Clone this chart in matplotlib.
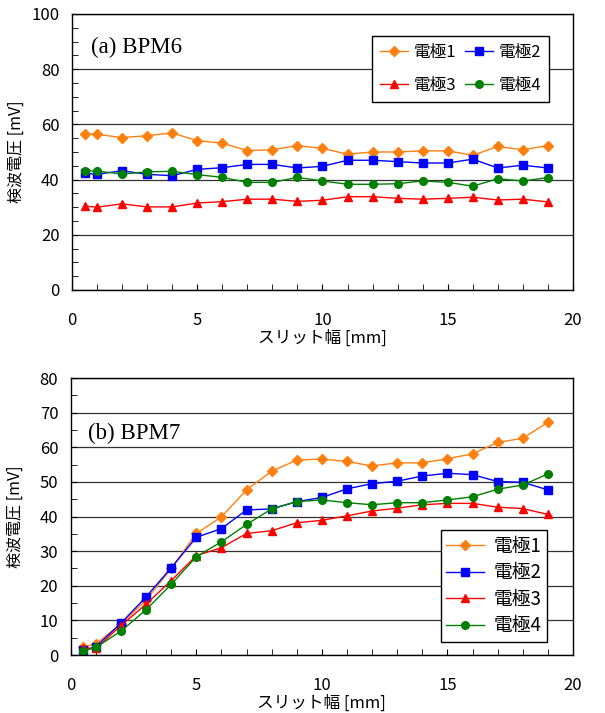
import numpy as np
import matplotlib.pyplot as plt
from matplotlib.ticker import MultipleLocator

plt.rcParams['font.family'] = ['Noto Sans CJK JP', 'DejaVu Sans']

x = [0.5, 1, 2, 3, 4, 5, 6, 7, 8, 9, 10, 11, 12, 13, 14, 15, 16, 17, 18, 19]

# (a) BPM6
a1 = [56.4, 56.4, 55.2, 55.9, 56.9, 54.1, 53.2, 50.5, 50.8, 52.3, 51.3, 49.2, 50.0, 50.0, 50.4, 50.4, 48.8, 52.0, 50.8, 52.3]
a2 = [42.3, 41.9, 43.2, 41.9, 41.4, 43.7, 44.3, 45.5, 45.5, 44.2, 44.8, 47.0, 47.0, 46.5, 46.0, 46.0, 47.4, 44.2, 45.2, 44.2]
a3 = [30.4, 30.0, 31.2, 30.1, 30.1, 31.5, 32.0, 32.9, 32.9, 32.1, 32.5, 33.8, 33.8, 33.2, 32.9, 33.2, 33.6, 32.6, 32.9, 31.9]
a4 = [43.1, 43.1, 42.0, 42.8, 43.0, 41.8, 40.8, 39.0, 39.0, 40.8, 39.5, 38.3, 38.3, 38.5, 39.5, 39.0, 37.6, 40.3, 39.5, 40.7]

# (b) BPM7
b1 = [2.4, 3.2, 9.0, 15.9, 25.0, 35.1, 39.9, 47.7, 53.1, 56.3, 56.6, 55.9, 54.6, 55.5, 55.5, 56.7, 58.1, 61.4, 62.6, 67.2]
b2 = [1.4, 2.4, 9.2, 16.8, 25.2, 34.0, 36.5, 41.9, 42.2, 44.3, 45.5, 48.0, 49.5, 50.2, 51.7, 52.5, 52.1, 50.1, 49.9, 47.7]
b3 = [1.9, 1.9, 8.5, 14.7, 21.5, 28.7, 31.0, 35.1, 35.9, 38.2, 38.9, 40.2, 41.6, 42.4, 43.4, 43.8, 43.8, 42.7, 42.3, 40.6]
b4 = [1.2, 2.2, 6.9, 13.1, 20.4, 28.4, 32.7, 37.7, 42.2, 44.3, 44.8, 44.0, 43.4, 44.0, 44.0, 44.8, 45.7, 47.9, 49.1, 52.3]

names = ['電極1', '電極2', '電極3', '電極4']
colors = ['#FF7F0F', '#0000FF', '#FF0000', '#008000']
markers = ['D', 's', '^', 'o']
msizes = [5, 5.5, 6, 5.5]

fig = plt.figure(figsize=(6.05, 7.13), dpi=100)
ax1 = fig.add_axes([0.119, 0.5933, 0.828, 0.3871])
ax2 = fig.add_axes([0.117, 0.0813, 0.830, 0.3885])

def setup(ax, ymax, ymaj, ymin):
    ax.set_xlim(0, 20)
    ax.set_ylim(0, ymax)
    ax.xaxis.set_major_locator(MultipleLocator(5))
    ax.xaxis.set_minor_locator(MultipleLocator(1))
    ax.yaxis.set_major_locator(MultipleLocator(ymaj))
    ax.yaxis.set_minor_locator(MultipleLocator(ymin))
    ax.tick_params(axis='x', which='both', direction='in', length=4, pad=16, labelsize=12)
    ax.tick_params(axis='y', which='both', direction='in', length=4, pad=9, labelsize=12)
    ax.grid(True, axis='y', which='major', color='#333333', lw=0.9)
    ax.set_axisbelow(True)
    for s in ax.spines.values():
        s.set_linewidth(1.0)
    ax.set_xlabel('スリット幅 [mm]', fontsize=12, va='center')
    ax.set_ylabel('検波電圧 [mV]', fontsize=11.5, va='center')

setup(ax1, 100, 20, 5)
setup(ax2, 80, 10, 5)
ax1.xaxis.set_label_coords(0.5, -0.176)
ax2.xaxis.set_label_coords(0.5, -0.174)
ax1.yaxis.set_label_coords(-0.112, 0.5)
ax2.yaxis.set_label_coords(-0.110, 0.5)

lines1 = []
for ys, n, c, m, ms in zip([a1, a2, a3, a4], names, colors, markers, msizes):
    ln, = ax1.plot(x, ys, color=c, marker=m, ms=ms, lw=1.0, label=n)
    lines1.append(ln)
for ys, n, c, m, ms in zip([b1, b2, b3, b4], names, colors, markers, msizes):
    ax2.plot(x, ys, color=c, marker=m, ms=ms, lw=1.0, label=n)

ax1.text(0.037, 0.88, '(a) BPM6', transform=ax1.transAxes, fontsize=16.5,
         family='Liberation Serif', va='center')
ax2.text(0.035, 0.80, '(b) BPM7', transform=ax2.transAxes, fontsize=16.5,
         family='Liberation Serif', va='center')

# row-wise order: 1 2 / 3 4
order = [0, 2, 1, 3]
leg1 = ax1.legend([lines1[i] for i in order], [names[i] for i in order],
                  ncol=2, loc='upper right', bbox_to_anchor=(0.952, 0.920),
                  borderaxespad=0, fancybox=False, edgecolor='black', fontsize=12,
                  handlelength=1.7, handletextpad=0.35, columnspacing=0.5,
                  labelspacing=1.0, borderpad=0.45, framealpha=1)
leg1.get_frame().set_linewidth(1.0)
leg2 = ax2.legend(loc='lower right', bbox_to_anchor=(0.948, 0.047),
                  borderaxespad=0, fancybox=False, edgecolor='black', fontsize=13.5,
                  handlelength=2.0, handletextpad=0.5, labelspacing=0.3,
                  borderpad=0.3, framealpha=1)
leg2.get_frame().set_linewidth(1.0)

fig.savefig('out.png', dpi=100)
